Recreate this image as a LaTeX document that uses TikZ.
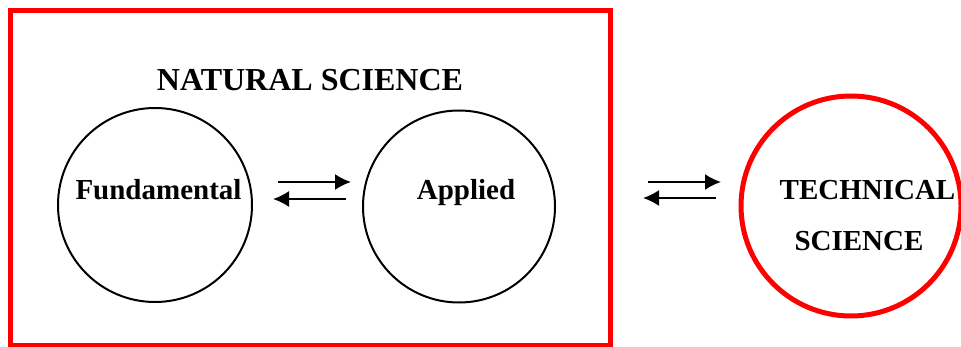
\documentclass[tikz,border=0pt]{standalone}
\usepackage{fontspec}
\setmainfont{Liberation Serif}
\usetikzlibrary{arrows.meta}
\pgfdeclarelayer{edgelayer}
\pgfdeclarelayer{nodelayer}
\pgfsetlayers{edgelayer,nodelayer,main}
\tikzstyle{none}=[inner sep=0pt]
\tikzstyle{field}=[circle,draw=black,line width=1pt,inner sep=0pt,minimum size=97pt]
\tikzstyle{redfield}=[circle,draw=red,line width=2.5pt,inner sep=0pt,minimum size=110pt]
\tikzstyle{frame}=[draw=red,line width=2.5pt]
\tikzstyle{title}=[inner sep=0pt,font=\fontsize{16pt}{19pt}\selectfont\bfseries]
\tikzstyle{label}=[inner sep=0pt,anchor=base,font=\fontsize{14.5pt}{17pt}\selectfont\bfseries]
\tikzstyle{transition}=[-{Latex[length=8pt,width=8pt]},draw=black,line width=1pt]

\begin{document}
\begin{tikzpicture}[x=10pt,y=10pt]
	\useasboundingbox (0,0) rectangle (48.05,-17.35);
	\begin{pgfonlayer}{nodelayer}
		\node [style=field] (0) at (7.75, -10.25) {};
		\node [style=field, minimum size=96pt] (1) at (22.95, -10.325) {};
		\node [style=redfield] (2) at (42.55, -10.3) {};
		\node [style=title] (3) at (15.5, -4.025) {NATURAL SCIENCE};
		\node [style=label] (4) at (7.925, -9.95) {Fundamental};
		\node [style=label] (5) at (23.3, -9.95) {Applied};
		\node [style=label] (6) at (43.375, -9.95) {TECHNICAL};
		\node [style=label] (7) at (42.95, -12.5) {SCIENCE};
		\node [style=none] (8) at (13.9, -9.1) {};
		\node [style=none] (9) at (17.55, -9.1) {};
		\node [style=none] (10) at (17.3, -9.95) {};
		\node [style=none] (11) at (13.65, -9.95) {};
		\node [style=none] (12) at (32.4, -9.1) {};
		\node [style=none] (13) at (36.05, -9.1) {};
		\node [style=none] (14) at (35.8, -9.9) {};
		\node [style=none] (15) at (32.15, -9.9) {};
	\end{pgfonlayer}
	\begin{pgfonlayer}{edgelayer}
		\draw [style=frame] (0.525, -0.55) rectangle (30.525, -17.25);
		\draw [style=transition] (8.center) to (9.center);
		\draw [style=transition] (10.center) to (11.center);
		\draw [style=transition] (12.center) to (13.center);
		\draw [style=transition] (14.center) to (15.center);
	\end{pgfonlayer}
\end{tikzpicture}
\end{document}
